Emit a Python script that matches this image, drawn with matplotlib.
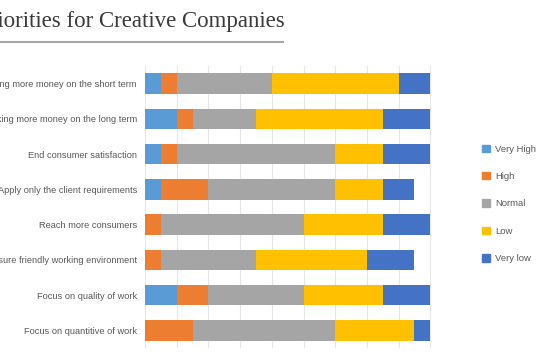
import matplotlib
matplotlib.use("Agg")
import matplotlib.pyplot as plt
from matplotlib.patches import Patch
import numpy as np

categories = [
    "Making more money on the short term",
    "Making more money on the long term",
    "End consumer satisfaction",
    "Apply only the client requirements",
    "Reach more consumers",
    "Ensure friendly working environment",
    "Focus on quality of work",
    "Focus on quantitive of work",
]
series_names = ["Very High", "High", "Normal", "Low", "Very low"]
very_high = [1, 2, 1, 1, 0, 0, 2, 0]
high = [1, 1, 1, 3, 1, 1, 2, 3]
normal = [6, 4, 10, 8, 9, 6, 6, 9]
low = [8, 8, 3, 3, 5, 7, 5, 5]
very_low = [2, 3, 3, 2, 3, 3, 3, 1]
colors = ["#5B9BD5", "#ED7D31", "#A5A5A5", "#FFC000", "#4472C4"]

W, H = 550, 360
fig = plt.figure(figsize=(W / 100, H / 100), dpi=100)
ax = fig.add_axes([145 / W, 1 - 348 / H, (462 - 145) / W, (348 - 66) / H])

y = np.arange(len(categories))
left = np.zeros(len(categories))
for name, vals, c in zip(series_names, [very_high, high, normal, low, very_low], colors):
    ax.barh(y, vals, left=left, height=0.58, color=c, label=name, zorder=3)
    left += np.array(vals)

ax.set_xlim(0, 20)
ax.set_ylim(len(categories) - 0.5, -0.5)
ax.set_xticks(np.arange(0, 21, 2))
ax.set_xticklabels([])
ax.tick_params(axis="x", length=0)
ax.grid(axis="x", color="#E6E6E6", linewidth=0.8, zorder=0)
ax.set_yticks(y)
ax.set_yticklabels(categories, fontsize=6.65, color="#595959", family="Liberation Sans")
ax.tick_params(axis="y", length=0, pad=5.8)
for s in ax.spines.values():
    s.set_visible(False)

handles = [Patch(color=c, label=n) for n, c in zip(series_names, colors)]
leg = fig.legend(handles=handles, loc="upper left", bbox_to_anchor=(473 / W, 1 - 136 / H),
                 frameon=False, labelcolor="#595959",
                 handlelength=0.85, handleheight=0.85, handletextpad=0.6,
                 labelspacing=1.95, prop={"family": "Liberation Sans", "size": 6.8})

fig.text(285 / W, 1 - 22 / H, "Priorities for Creative Companies", ha="right", va="center",
         fontsize=16.5, family="Liberation Serif", color="#3A3A3A")
fig.add_artist(plt.Line2D([0, 283 / W], [1 - 42 / H, 1 - 42 / H], color="#A6A6A6", linewidth=1.5,
                          transform=fig.transFigure))

fig.savefig("out.png", dpi=100, facecolor="white")
